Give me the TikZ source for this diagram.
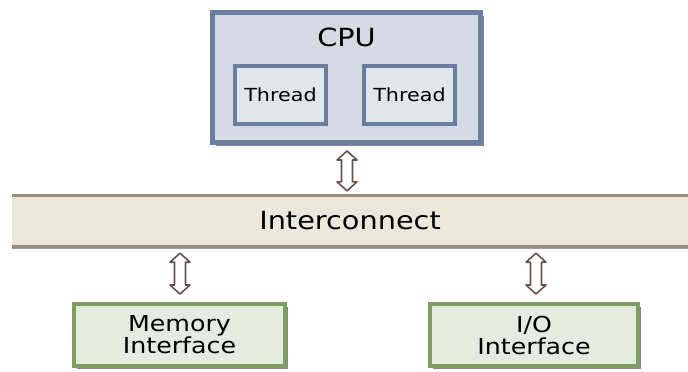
\documentclass[tikz,border=0pt]{standalone}
\usepackage{fontspec}
\setmainfont{DejaVu Sans}
\usetikzlibrary{shadows,calc}
\definecolor{cpuline}{HTML}{6A7EA0}
\definecolor{cpufill}{HTML}{D5DBE3}
\definecolor{thrfill}{HTML}{E1E5EC}
\definecolor{barfill}{HTML}{ECE7DA}
\definecolor{barline}{HTML}{9E8A78}
\definecolor{grnline}{HTML}{7E9E62}
\definecolor{grnfill}{HTML}{E5EBDF}
\definecolor{arrcol}{HTML}{65524F}
\newcommand{\wide}[1]{\scalebox{1.15}[1]{#1}}
% fat open double-headed arrow between two named anchors
\newcommand{\fatarrow}[4]{% #1 top anchor, #2 bottom anchor, #3 top gap, #4 bottom gap
  \draw[fatarr] let \p1=(#1), \p2=(#2) in
    (\x1,\y1-#3) -- (\x1-10pt,\y1-#3-9pt) -- (\x1-5.5pt,\y1-#3-9pt)
    -- (\x1-5.5pt,\y2+#4+9pt) -- (\x1-10pt,\y2+#4+9pt) -- (\x1,\y2+#4)
    -- (\x1+10pt,\y2+#4+9pt) -- (\x1+5.5pt,\y2+#4+9pt)
    -- (\x1+5.5pt,\y1-#3-9pt) -- (\x1+10pt,\y1-#3-9pt) -- cycle;}
\tikzset{
  shad/.style={drop shadow={shadow xshift=3pt,shadow yshift=-3pt,fill=black!60,opacity=0.8}},
  cpubox/.style={draw=cpuline,fill=cpufill,line width=5pt,minimum width=268pt,minimum height=130pt,inner sep=0pt,shad},
  thrbox/.style={draw=cpuline,fill=thrfill,line width=4pt,minimum width=91pt,minimum height=58pt,inner sep=0pt,font=\fontsize{18}{18}\selectfont},
  ifbox/.style={draw=grnline,fill=grnfill,line width=4pt,minimum height=62pt,inner sep=0pt,align=center,font=\fontsize{22}{22}\selectfont,shad},
  fatarr/.style={draw=arrcol,fill=white,line width=1.6pt,line join=round},
}
\begin{document}
\begin{tikzpicture}[x=1pt,y=-1pt]
\useasboundingbox (0,0) rectangle (688,372);
% CPU
\node[cpubox] (cpu) at (346.5,77.5) {};
\node[font=\fontsize{25}{25}\selectfont] (cpulbl) at (346.5,37) {\wide{CPU}};
\node[thrbox] (t1) at (280.5,95) {\wide{Thread}};
\node[thrbox] (t2) at (409.5,95) {\wide{Thread}};
% Interconnect bar
\node[fill=barfill,minimum width=676pt,minimum height=50pt,inner sep=0pt,
      drop shadow={shadow xshift=0pt,shadow yshift=-3pt,fill=black!50,opacity=0.8},
      font=\fontsize{25}{25}\selectfont] (bar) at (350,221) {\wide{Interconnect}};
\draw[barline,line width=3pt] (bar.north west) -- (bar.north east);
\draw[barline,line width=3pt] (bar.south west) -- (bar.south east);
% Interfaces
\node[ifbox,minimum width=211pt] (mem) at (179.5,335) {\wide{Memory}\\\wide{Interface}};
\node[ifbox,minimum width=208pt] (io) at (534,335) {\wide{I/O}\\\wide{Interface}};
% arrows
\coordinate (a1t) at (cpu.south -| 347,0);
\coordinate (a1b) at (bar.north -| 347,0);
\coordinate (a2t) at (bar.south -| 180,0);
\coordinate (a2b) at (mem.north -| 180,0);
\coordinate (a3t) at (bar.south -| 536,0);
\coordinate (a3b) at (io.north -| 536,0);
\fatarrow{a1t}{a1b}{6pt}{5pt}
\fatarrow{a2t}{a2b}{7pt}{8pt}
\fatarrow{a3t}{a3b}{7pt}{8pt}
\end{tikzpicture}
\end{document}
